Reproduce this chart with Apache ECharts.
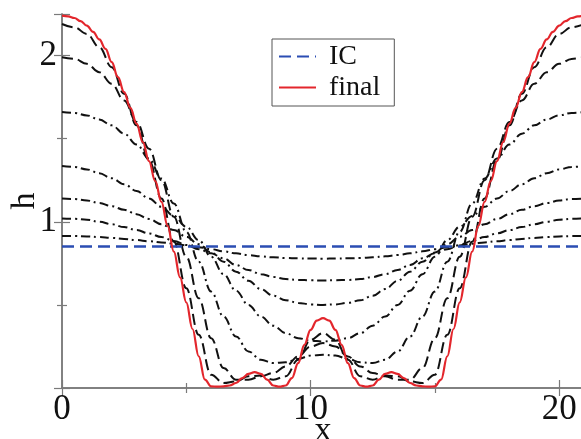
<!DOCTYPE html>
<html>
<head>
<meta charset="utf-8">
<script src="https://cdn.jsdelivr.net/npm/echarts@6/dist/echarts.min.js"></script>
<style>
  html, body { margin: 0; padding: 0; background: #fff; }
  #chart { width: 581px; height: 439px; }
</style>
</head>
<body>
<div id="chart"></div>
<script>
// sample positions along x
const xCoarse = [0,0.5,1,1.5,2,2.5,3,3.5,4,4.5,5,5.5,6,6.5,7,7.5,8,8.5,9,9.5,10,10.5,
  11,11.5,12,12.5,13,13.5,14,14.5,15,15.5,16,16.5,17,17.5,18,18.5,19,19.5,20,20.5,21];
const xFine = [0,0.25,0.5,0.75,1,1.25,1.5,1.75,2,2.25,2.5,2.75,3,3.25,3.5,3.75,4,4.25,4.5,4.75,
  5,5.25,5.5,5.75,6,6.25,6.5,6.75,7,7.25,7.5,7.75,8,8.25,8.5,8.75,9,9.25,9.5,9.75,10,10.25,10.5,
  10.75,11,11.25,11.5,11.75,12,12.25,12.5,12.75,13,13.25,13.5,13.75,14,14.25,14.5,14.75,15,15.25,
  15.5,15.75,16,16.25,16.5,16.75,17,17.25,17.5,17.75,18,18.25,18.5,18.75,19,19.25,19.5,19.75,20,
  20.25,20.5,20.75,21];

// initial condition (flat film)
const icX = [0, 21];
const icH = [0.852, 0.852];

// intermediate profiles (on xCoarse)
const h1 = [0.915,0.914,0.912,0.908,0.903,0.897,0.89,0.883,0.876,0.868,0.858,0.847,0.835,0.822,0.81,0.80,0.792,0.786,0.782,0.78,0.779,0.778,
  0.779,0.78,0.782,0.786,0.792,0.80,0.81,0.822,0.835,0.847,0.858,0.868,0.876,0.883,0.89,0.897,0.903,0.908,0.912,0.914,0.915];
const h2 = [1.02,1.018,1.012,1.0,0.985,0.968,0.95,0.93,0.908,0.885,0.86,0.835,0.81,0.78,0.74,0.71,0.685,0.668,0.655,0.65,0.648,0.647,
  0.648,0.65,0.655,0.668,0.685,0.71,0.74,0.78,0.81,0.835,0.86,0.885,0.908,0.93,0.95,0.968,0.985,1.0,1.012,1.018,1.02];
const h3 = [1.14,1.137,1.128,1.113,1.094,1.072,1.046,1.017,0.985,0.95,0.91,0.865,0.815,0.76,0.70,0.645,0.595,0.555,0.528,0.512,0.503,0.50,
  0.503,0.512,0.528,0.555,0.595,0.645,0.70,0.76,0.815,0.865,0.91,0.95,0.985,1.017,1.046,1.072,1.094,1.113,1.128,1.137,1.14];
const h4 = [1.335,1.33,1.315,1.292,1.262,1.226,1.185,1.14,1.09,1.035,0.97,0.89,0.79,0.685,0.585,0.50,0.43,0.375,0.33,0.30,0.285,0.28,
  0.285,0.30,0.33,0.375,0.43,0.50,0.585,0.685,0.79,0.89,0.97,1.035,1.09,1.14,1.185,1.226,1.262,1.292,1.315,1.33,1.335];
const h5 = [1.66,1.655,1.64,1.615,1.58,1.53,1.465,1.38,1.26,1.11,0.94,0.76,0.58,0.43,0.31,0.22,0.17,0.15,0.155,0.175,0.195,0.20,
  0.195,0.175,0.155,0.15,0.17,0.22,0.31,0.43,0.58,0.76,0.94,1.11,1.26,1.38,1.465,1.53,1.58,1.615,1.64,1.655,1.66];
const h6 = [1.99,1.98,1.95,1.90,1.83,1.73,1.60,1.44,1.25,1.03,0.79,0.54,0.30,0.12,0.05,0.05,0.07,0.09,0.13,0.19,0.25,0.27,
  0.25,0.19,0.13,0.09,0.07,0.05,0.05,0.12,0.30,0.54,0.79,1.03,1.25,1.44,1.60,1.73,1.83,1.90,1.95,1.98,1.99];
const h7 = [2.19,2.17,2.13,2.05,1.93,1.77,1.58,1.37,1.14,0.88,0.60,0.32,0.08,0.03,0.04,0.07,0.075,0.05,0.07,0.17,0.29,0.33,
  0.29,0.17,0.07,0.05,0.075,0.07,0.04,0.03,0.08,0.32,0.60,0.88,1.14,1.37,1.58,1.77,1.93,2.05,2.13,2.17,2.19];

// final profile (on xFine)
const hFinal = [2.24,2.236,2.226,2.207,2.18,2.143,2.097,2.04,1.96,1.87,1.78,1.685,1.59,1.48,1.365,1.245,1.12,0.975,0.82,0.665,
  0.515,0.355,0.19,0.05,0.01,0.008,0.01,0.015,0.03,0.06,0.085,0.095,0.085,0.05,0.015,0.008,0.015,0.06,0.15,0.26,0.35,0.405,0.42,
  0.405,0.35,0.26,0.15,0.06,0.015,0.008,0.015,0.05,0.085,0.095,0.085,0.06,0.03,0.015,0.01,0.008,0.01,0.05,0.19,0.355,0.515,
  0.665,0.82,0.975,1.12,1.245,1.365,1.48,1.59,1.685,1.78,1.87,1.96,2.04,2.097,2.143,2.18,2.207,2.226,2.236,2.24];

function zip(xs, ys) {
  return xs.map((x, i) => [x, ys[i]]);
}

const SERIF = 'Liberation Serif';
const AXIS_GREY = '#7a7a7a';
const dashDot = [9, 4, 2, 4];
const longDash = [11, 5];

function blackSeries(ys, dash) {
  return {
    type: 'line',
    data: zip(xCoarse, ys),
    showSymbol: false,
    symbol: 'none',
    smooth: 0.4,
    smoothMonotone: 'x',
    silent: true,
    lineStyle: { color: '#111', width: 2, type: dash },
    z: 2
  };
}

const chart = echarts.init(document.getElementById('chart'), null, { renderer: 'canvas' });

const axisCommon = {
  type: 'value',
  axisLine: { show: true, lineStyle: { color: AXIS_GREY, width: 1.5 } },
  axisTick: { show: true, inside: true, length: 8, lineStyle: { color: AXIS_GREY, width: 1.2 } },
  minorTick: { show: true, splitNumber: 2, length: 5, lineStyle: { color: AXIS_GREY, width: 1.2 } },
  splitLine: { show: false }
};

chart.setOption({
  animation: false,
  backgroundColor: '#fff',
  grid: { left: 62, top: 14, right: -3, bottom: 51, containLabel: false, outerBoundsMode: 'none' },
  legend: {
    data: ['IC', 'final'],
    orient: 'vertical',
    left: 272,
    top: 39,
    backgroundColor: '#fff',
    borderColor: '#555',
    borderWidth: 1,
    borderRadius: 0,
    padding: [3, 14, 4, 6],
    itemGap: 2,
    itemWidth: 37,
    itemHeight: 12,
    itemStyle: { opacity: 0 },
    textStyle: { fontFamily: SERIF, fontSize: 28, color: '#111', lineHeight: 29, padding: [0, 0, 0, 8] }
  },
  xAxis: [
    Object.assign({}, axisCommon, {
      min: 0, max: 21, interval: 10,
      name: 'x', nameLocation: 'middle', nameGap: 26, nameMoveOverlap: false,
      nameTextStyle: { fontFamily: SERIF, fontSize: 34, color: '#111' },
      axisLabel: {
        fontFamily: SERIF, fontSize: 35, color: '#111', margin: 4,
        showMaxLabel: false
      }
    }),
    Object.assign({}, axisCommon, {
      position: 'top', min: 0, max: 21, interval: 10,
      axisLabel: { show: false }
    })
  ],
  yAxis: [
    Object.assign({}, axisCommon, {
      min: 0, max: 2.25, interval: 1,
      name: 'h', nameLocation: 'middle', nameGap: 20, nameMoveOverlap: false,
      nameTextStyle: { fontFamily: SERIF, fontSize: 34, color: '#111' },
      axisLabel: {
        fontFamily: SERIF, fontSize: 35, color: '#111', margin: 5,
        showMinLabel: false, showMaxLabel: false
      }
    }),
    Object.assign({}, axisCommon, {
      position: 'right', min: 0, max: 2.25, interval: 1,
      axisLabel: { show: false }
    })
  ],
  series: [
    blackSeries(h1, dashDot),
    blackSeries(h2, dashDot),
    blackSeries(h3, dashDot),
    blackSeries(h4, dashDot),
    blackSeries(h5, dashDot),
    blackSeries(h6, longDash),
    blackSeries(h7, longDash),
    {
      name: 'IC',
      type: 'line',
      data: zip(icX, icH),
      showSymbol: false,
      symbol: 'none',
      silent: true,
      itemStyle: { color: '#2b4db3' },
      lineStyle: { color: '#2b4db3', width: 2.5, type: [12, 6] },
      z: 3
    },
    {
      name: 'final',
      type: 'line',
      data: zip(xFine, hFinal),
      showSymbol: false,
      symbol: 'none',
      smooth: 0.4,
      smoothMonotone: 'x',
      silent: true,
      itemStyle: { color: '#e3262c' },
      lineStyle: { color: '#e3262c', width: 2.2 },
      z: 4
    }
  ]
});
</script>
</body>
</html>
